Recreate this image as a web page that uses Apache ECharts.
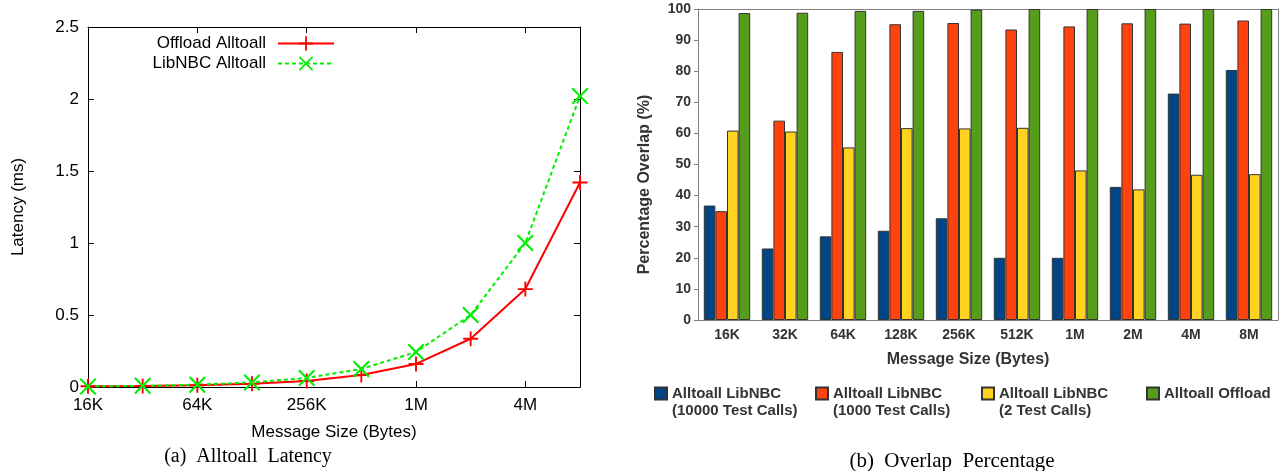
<!DOCTYPE html>
<html>
<head>
<meta charset="utf-8">
<script src="https://cdn.jsdelivr.net/npm/echarts@6/dist/echarts.min.js"></script>
<style>
  html, body { margin: 0; padding: 0; background: #fff; }
  #c { width: 1280px; height: 471px; }
</style>
</head>
<body>
<div id="c"></div>
<script>
// Message sizes shared by both panels
const sizes = ['16K', '32K', '64K', '128K', '256K', '512K', '1M', '2M', '4M', '8M'];

// (a) Alltoall latency in ms
const offloadLatency = [0.005, 0.007, 0.012, 0.022, 0.042, 0.083, 0.16, 0.335, 0.68, 1.42];
const libnbcLatency  = [0.004, 0.008, 0.016, 0.032, 0.063, 0.125, 0.243, 0.5, 1.0, 2.02];

// (b) Overlap percentage
const overlap10000   = [36.8, 23.0, 26.9, 28.7, 32.7, 20.0, 20.0, 42.8, 72.8, 80.4];
const overlap1000    = [35.0, 64.1, 86.2, 95.1, 95.5, 93.4, 94.4, 95.4, 95.3, 96.3];
const overlap2       = [60.9, 60.6, 55.5, 61.7, 61.6, 61.8, 48.1, 42.0, 46.7, 46.9];
const overlapOffload = [98.7, 98.8, 99.4, 99.4, 99.8, 100, 100, 100, 100, 100];

const latencyNames = ['Offload Alltoall', 'LibNBC Alltoall'];
const overlapNames = [
  'Alltoall LibNBC\n(10000 Test Calls)',
  'Alltoall LibNBC\n(1000 Test Calls)',
  'Alltoall LibNBC\n(2 Test Calls)',
  'Alltoall Offload'
];
const overlapColors = ['#004586', '#ff420e', '#ffd320', '#579d1c'];
const overlapData = [overlap10000, overlap1000, overlap2, overlapOffload];
const overlapLegendWidths = [143, 148, 147, 115];

const SANS = '"Liberation Sans", Arial, sans-serif';
const SERIF = '"Liberation Serif", "Times New Roman", serif';
const PLUS = 'path://M7,0H9V7H16V9H9V16H7V9H0V7H7Z';
const CROSS = 'path://M0,1.4L1.4,0L8,6.6L14.6,0L16,1.4L9.4,8L16,14.6L14.6,16L8,9.4L1.4,16L0,14.6L6.6,8Z';

const black = '#000';
const gray = '#808080';
const darkText = '#333';

const chart = echarts.init(document.getElementById('c'), null, { renderer: 'canvas' });

// legend entries for the bar panel, each given its own column width
const overlapLegendData = overlapNames.map((name, i) => ({
  name: name,
  textStyle: { width: overlapLegendWidths[i] }
}));

const option = {
  animation: false,
  backgroundColor: '#fff',
  grid: [
    { left: 88, top: 27, width: 492, height: 360 },
    { left: 698, top: 9, width: 580, height: 311 }
  ],
  legend: [
    {
      data: [latencyNames[0]], right: 940, top: 30, align: 'right',
      itemWidth: 56, itemHeight: 18, selectedMode: false,
      textStyle: { fontSize: 17, color: black, fontFamily: SANS, padding: [0, 7, 0, 0] }
    },
    {
      data: [latencyNames[1]], right: 940, top: 50, align: 'right',
      itemWidth: 56, itemHeight: 18, selectedMode: false,
      textStyle: { fontSize: 17, color: black, fontFamily: SANS, padding: [0, 7, 0, 0] }
    },
    {
      data: overlapLegendData, left: 654, top: 368, icon: 'rect', width: 626, padding: 0,
      itemWidth: 12, itemHeight: 12, itemGap: 0, selectedMode: false,
      // a leading blank line keeps the first text line level with the colour key
      formatter: name => (name.indexOf('\n') >= 0 ? '\n' + name : name),
      textStyle: {
        fontSize: 15, fontWeight: 'bold', color: darkText, fontFamily: SANS, lineHeight: 17
      }
    }
  ],
  xAxis: [
    {
      gridIndex: 0, type: 'category', data: sizes, boundaryGap: false,
      axisLine: { onZero: false, lineStyle: { color: black, width: 1 } },
      axisTick: { inside: true, length: 6, interval: 1, lineStyle: { color: black } },
      axisLabel: { interval: 1, margin: 10, fontSize: 17, color: black, fontFamily: SANS },
      splitLine: { show: false },
      name: 'Message Size (Bytes)', nameLocation: 'middle', nameGap: 37,
      nameTextStyle: { fontSize: 17, color: black, fontFamily: SANS }
    },
    {
      gridIndex: 0, type: 'category', data: sizes, boundaryGap: false, position: 'top',
      axisLine: { onZero: false, lineStyle: { color: black, width: 1 } },
      axisTick: { inside: true, length: 6, interval: 1, lineStyle: { color: black } },
      axisLabel: { show: false }, splitLine: { show: false }
    },
    {
      gridIndex: 1, type: 'category', data: sizes,
      axisLine: { onZero: false, lineStyle: { color: gray, width: 1 } },
      axisTick: { length: 4, lineStyle: { color: gray } },
      axisLabel: { margin: 8, fontSize: 14, fontWeight: 'bold', color: darkText, fontFamily: SANS },
      splitLine: { show: false },
      name: 'Message Size (Bytes)', nameLocation: 'middle', nameGap: 32,
      nameTextStyle: { fontSize: 16, fontWeight: 'bold', color: darkText, fontFamily: SANS, padding: [0, 40, 0, 0] }
    },
    {
      gridIndex: 1, type: 'category', data: sizes, position: 'top',
      axisLine: { onZero: false, lineStyle: { color: gray, width: 1 } },
      axisTick: { show: false }, axisLabel: { show: false }, splitLine: { show: false }
    }
  ],
  yAxis: [
    {
      gridIndex: 0, type: 'value', min: 0, max: 2.5, interval: 0.5,
      axisLine: { show: true, onZero: false, lineStyle: { color: black, width: 1 } },
      axisTick: { show: true, inside: true, length: 6, lineStyle: { color: black } },
      axisLabel: { margin: 9, fontSize: 17, color: black, fontFamily: SANS },
      splitLine: { show: false },
      name: 'Latency (ms)', nameLocation: 'middle', nameRotate: 90, nameGap: 61,
      nameTextStyle: { fontSize: 17, color: black, fontFamily: SANS }
    },
    {
      gridIndex: 0, type: 'value', min: 0, max: 2.5, interval: 0.5, position: 'right',
      axisLine: { show: true, onZero: false, lineStyle: { color: black, width: 1 } },
      axisTick: { show: true, inside: true, length: 6, lineStyle: { color: black } },
      axisLabel: { show: false }, splitLine: { show: false }
    },
    {
      gridIndex: 1, type: 'value', min: 0, max: 100, interval: 10,
      axisLine: { show: true, onZero: false, lineStyle: { color: gray, width: 1 } },
      axisTick: { show: true, length: 4, lineStyle: { color: gray } },
      axisLabel: { margin: 7, fontSize: 14, fontWeight: 'bold', color: darkText, fontFamily: SANS },
      splitLine: { show: false },
      name: 'Percentage Overlap (%)', nameLocation: 'middle', nameRotate: 90, nameGap: 45,
      nameTextStyle: { fontSize: 16, fontWeight: 'bold', color: darkText, fontFamily: SANS, padding: [0, 40, 0, 0] }
    },
    {
      gridIndex: 1, type: 'value', min: 0, max: 100, interval: 10, position: 'right',
      axisLine: { show: true, onZero: false, lineStyle: { color: gray, width: 1 } },
      axisTick: { show: false }, axisLabel: { show: false }, splitLine: { show: false }
    }
  ],
  series: [
    {
      name: latencyNames[0], type: 'line', xAxisIndex: 0, yAxisIndex: 0,
      data: offloadLatency, symbol: PLUS, symbolSize: 15,
      itemStyle: { color: '#ff0000' },
      lineStyle: { color: '#ff0000', width: 2 }
    },
    {
      name: latencyNames[1], type: 'line', xAxisIndex: 0, yAxisIndex: 0,
      data: libnbcLatency, symbol: CROSS, symbolSize: 17,
      itemStyle: { color: '#00ee00' },
      lineStyle: { color: '#00ee00', width: 2, type: [4, 3] }
    }
  ].concat(overlapNames.map((name, i) => ({
    name: name, type: 'bar', xAxisIndex: 2, yAxisIndex: 2,
    data: overlapData[i], barGap: 0, barCategoryGap: '20%',
    itemStyle: { color: overlapColors[i], borderColor: '#333', borderWidth: 1 }
  }))),
  graphic: [
    {
      type: 'text', x: 248, y: 457,
      style: { text: '(a)  Alltoall  Latency', fontSize: 20, fontFamily: SERIF, fill: black, align: 'center', verticalAlign: 'middle' }
    },
    {
      type: 'text', x: 952, y: 461,
      style: { text: '(b)  Overlap  Percentage', fontSize: 21, fontFamily: SERIF, fill: black, align: 'center', verticalAlign: 'middle' }
    }
  ]
};

chart.setOption(option);
</script>
</body>
</html>
